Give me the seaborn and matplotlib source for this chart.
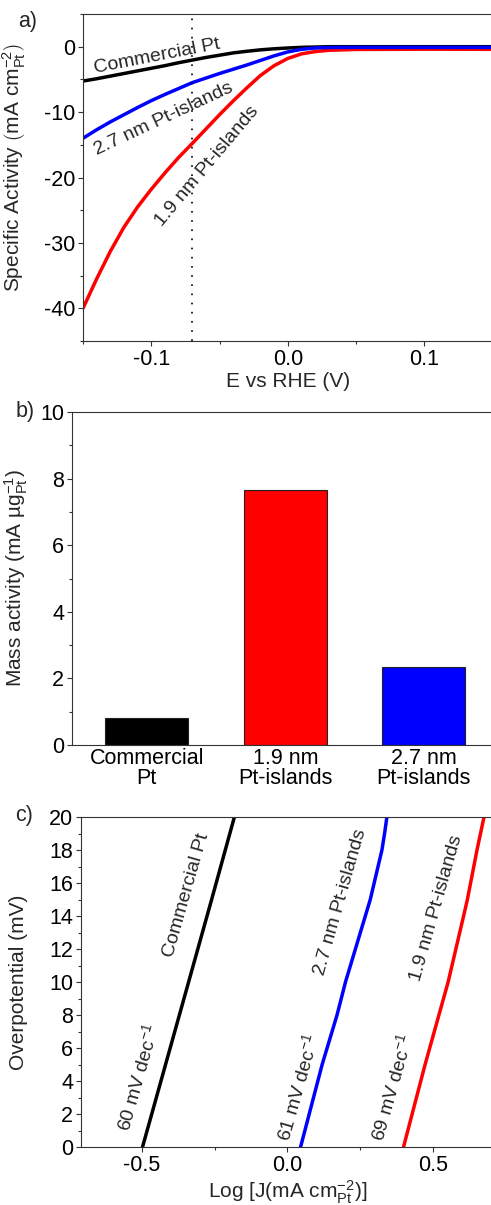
import matplotlib
matplotlib.use("Agg")
import matplotlib.pyplot as plt
import seaborn as sns
from matplotlib.ticker import MultipleLocator, FormatStrFormatter

# --- panel a: polarisation curves (E vs RHE, specific activity) ---
e_vs_rhe = [-0.15, -0.14, -0.13, -0.12, -0.11, -0.10, -0.09, -0.08, -0.07, -0.06, -0.05,
            -0.04, -0.03, -0.02, -0.01, 0.00, 0.01, 0.02, 0.03, 0.05, 0.10, 0.15]
sa_commercial = [-5.25, -4.9, -4.5, -4.1, -3.7, -3.3, -2.9, -2.45, -2.05, -1.65, -1.3,
                 -0.95, -0.7, -0.48, -0.32, -0.2, -0.1, -0.05, 0.0, 0.0, 0.0, 0.0]
sa_27nm = [-14.0, -12.7, -11.5, -10.4, -9.3, -8.25, -7.3, -6.4, -5.5, -4.8, -4.1,
           -3.45, -2.8, -2.1, -1.4, -0.8, -0.4, -0.2, -0.12, -0.1, -0.1, -0.1]
sa_19nm = [-40.0, -35.5, -31.3, -27.6, -24.5, -21.8, -19.3, -16.95, -14.8, -12.6, -10.4,
           -8.3, -6.3, -4.4, -2.9, -1.8, -1.1, -0.75, -0.55, -0.42, -0.38, -0.4]
e_marker = -0.07

# --- panel b: mass activity ---
catalysts = ["Commercial\nPt", "1.9 nm\nPt-islands", "2.7 nm\nPt-islands"]
mass_activity = [0.8, 7.66, 2.33]
bar_colors = ["black", "red", "blue"]

# --- panel c: Tafel plots ---
eta_mv = [0, 5, 10, 15, 20]
logj_commercial = [-0.497, -0.418, -0.339, -0.260, -0.182]
eta_27 = [0, 5, 8, 10, 12, 15, 18, 19, 20]
logj_27nm = [0.045, 0.119, 0.170, 0.199, 0.233, 0.284, 0.324, 0.333, 0.341]
eta_19 = [0, 5, 10, 14, 15, 18, 20]
logj_19nm = [0.398, 0.472, 0.551, 0.604, 0.617, 0.650, 0.674]

sns.set_style("ticks")
plt.rcParams["font.family"] = ["Liberation Sans", "DejaVu Sans"]
plt.rcParams["mathtext.fontset"] = "custom"
plt.rcParams["mathtext.rm"] = "Liberation Sans"
plt.rcParams["mathtext.it"] = "Liberation Sans:italic"
plt.rcParams["mathtext.default"] = "regular"
plt.rcParams["axes.unicode_minus"] = False
plt.rcParams["axes.linewidth"] = 0.8
plt.rcParams["axes.edgecolor"] = "#333333"
for ax_name in ("xtick", "ytick"):
    plt.rcParams[f"{ax_name}.major.size"] = 3.5
    plt.rcParams[f"{ax_name}.minor.size"] = 2.2
    plt.rcParams[f"{ax_name}.major.width"] = 0.8
    plt.rcParams[f"{ax_name}.minor.width"] = 0.8
    plt.rcParams[f"{ax_name}.major.pad"] = 2
    plt.rcParams[f"{ax_name}.labelsize"] = 15.5
    plt.rcParams[f"{ax_name}.color"] = "#333333"
    plt.rcParams[f"{ax_name}.labelcolor"] = "black"

W, H = 491, 1205
fig = plt.figure(figsize=(W / 100, H / 100), dpi=100)


def px_axes(left, top, right, bottom):
    return fig.add_axes([left / W, 1 - bottom / H, (right - left) / W, (bottom - top) / H])


lw_curve = 2.5
label_fs = 15

# ---------------- a) ----------------
ax1 = px_axes(83, 14, 492.5, 341)
sns.lineplot(x=e_vs_rhe, y=sa_commercial, color="black", lw=lw_curve, ax=ax1)
sns.lineplot(x=e_vs_rhe, y=sa_19nm, color="red", lw=lw_curve, ax=ax1)
sns.lineplot(x=e_vs_rhe, y=sa_27nm, color="blue", lw=lw_curve, ax=ax1)
ax1.axvline(e_marker, color="black", lw=1.2, ls=(0, (1, 4.5)))
ax1.set_xlim(-0.15, 0.15)
ax1.set_ylim(-45, 5)
ax1.xaxis.set_major_locator(MultipleLocator(0.1))
ax1.xaxis.set_minor_locator(MultipleLocator(0.05))
ax1.xaxis.set_major_formatter(FormatStrFormatter("%.1f"))
ax1.yaxis.set_major_locator(MultipleLocator(10))
ax1.yaxis.set_minor_locator(MultipleLocator(5))
ax1.set_xlabel("E vs RHE (V)", fontsize=label_fs, labelpad=2)
ax1.set_ylabel(r"Specific Activity $\left(\mathrm{mA\ cm^{-2}_{Pt}}\right)$", fontsize=label_fs)
ax1.yaxis.set_label_coords(-0.134, 0.53)
ax1.text(-0.096, -1.45, "Commercial Pt", rotation=11, fontsize=14,
         ha="center", va="center", rotation_mode="anchor")
ax1.text(-0.0907, -11.1, "2.7 nm Pt-islands", rotation=25, fontsize=14,
         ha="center", va="center", rotation_mode="anchor")
ax1.text(-0.059, -18.3, "1.9 nm Pt-islands", rotation=50, fontsize=14,
         ha="center", va="center", rotation_mode="anchor")
fig.text(28 / W, 1 - 22 / H, "a)", fontsize=15.5, ha="center", va="center")

# ---------------- b) ----------------
ax2 = px_axes(72, 412, 493, 745)
sns.barplot(x=catalysts, y=mass_activity, hue=catalysts, palette=bar_colors,
            legend=False, width=0.6, edgecolor="#222222", linewidth=0.8,
            saturation=1, ax=ax2)
ax2.set_xlim(-0.54, 2.5)
ax2.set_ylim(0, 10)
ax2.yaxis.set_major_locator(MultipleLocator(2))
ax2.yaxis.set_minor_locator(MultipleLocator(1))
ax2.tick_params(axis="x", length=0)
for lbl in ax2.get_xticklabels():
    lbl.set_linespacing(0.95)
ax2.set_xlabel("")
ax2.set_ylabel(r"Mass activity (mA µg$^{-1}_{Pt}$)", fontsize=label_fs)
ax2.yaxis.set_label_coords(-0.1, 0.5)
fig.text(25 / W, 1 - 411 / H, "b)", fontsize=15.5, ha="center", va="center")

# ---------------- c) ----------------
ax3 = px_axes(81, 817, 494.5, 1147)
sns.lineplot(x=logj_commercial, y=eta_mv, color="black", lw=lw_curve, sort=False, ax=ax3)
sns.lineplot(x=logj_27nm, y=eta_27, color="blue", lw=lw_curve, sort=False, ax=ax3)
sns.lineplot(x=logj_19nm, y=eta_19, color="red", lw=lw_curve, sort=False, ax=ax3)
ax3.set_xlim(-0.708, 0.71)
ax3.set_ylim(0, 20)
ax3.xaxis.set_major_locator(MultipleLocator(0.5))
ax3.xaxis.set_minor_locator(MultipleLocator(0.25))
ax3.xaxis.set_major_formatter(FormatStrFormatter("%.1f"))
ax3.yaxis.set_major_locator(MultipleLocator(2))
ax3.yaxis.set_minor_locator(MultipleLocator(1))
ax3.set_xlabel(r"Log [J(mA cm$^{-2}_{Pt}$)]", fontsize=label_fs, labelpad=2)
ax3.set_ylabel("Overpotential (mV)", fontsize=label_fs)
ax3.yaxis.set_label_coords(-0.128, 0.5)
tafel_labels = [
    (-0.347, 15.25, "Commercial Pt"),
    (0.182, 14.85, "2.7 nm Pt-islands"),
    (0.511, 14.5, "1.9 nm Pt-islands"),
    (-0.514, 4.2, r"60 mV dec$^{-1}$"),
    (0.034, 3.6, r"61 mV dec$^{-1}$"),
    (0.358, 3.6, r"69 mV dec$^{-1}$"),
]
for tx, ty, txt in tafel_labels:
    ax3.text(tx, ty, txt, rotation=74, fontsize=14, ha="center", va="center",
             rotation_mode="anchor")
fig.text(24 / W, 1 - 815 / H, "c)", fontsize=15.5, ha="center", va="center")

fig.savefig("out.png", dpi=100, facecolor="white")
